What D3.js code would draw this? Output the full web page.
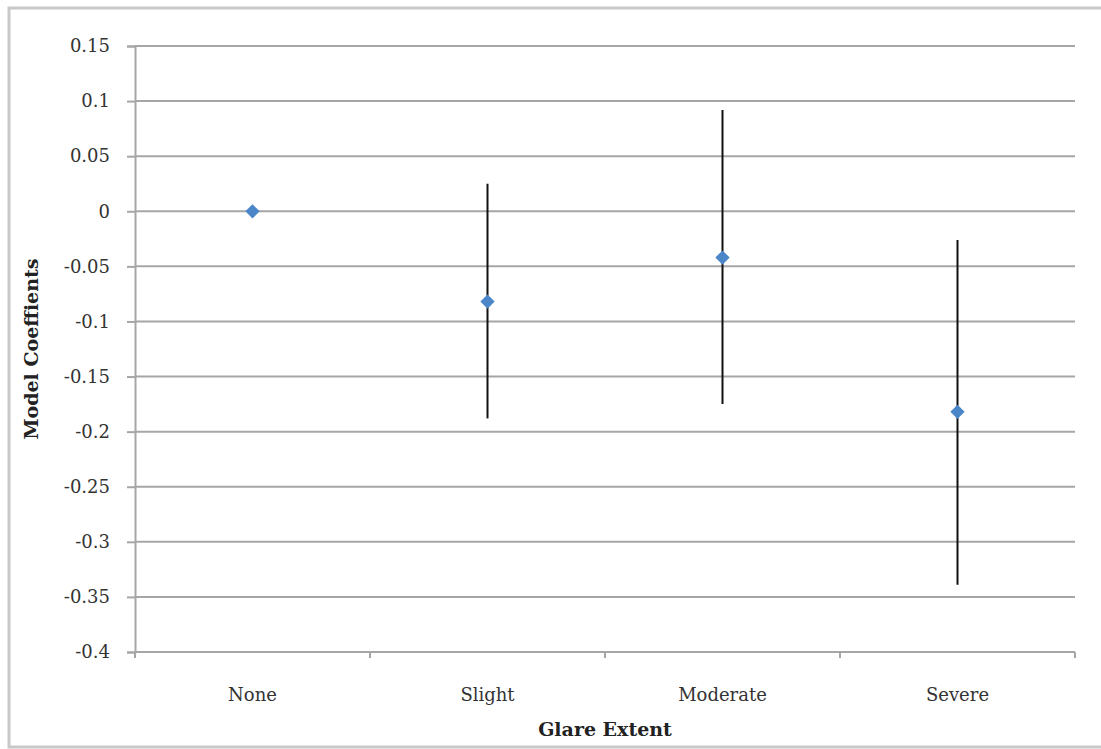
<!DOCTYPE html>
<html>
<head>
<meta charset="utf-8">
<script src="https://cdn.jsdelivr.net/npm/d3@7"></script>
<style>
  html, body { margin: 0; padding: 0; background: #fff; }
  svg { display: block; }
  text { font-family: "DejaVu Serif", "Liberation Serif", serif; }
</style>
</head>
<body>
<svg id="chart" width="1101" height="749"></svg>
<script>
// Glare extent categories and their model coefficients with interval bounds
const categories = ["None", "Slight", "Moderate", "Severe"];
const coefficients = [0, -0.082, -0.042, -0.182];
const upperBounds = [null, 0.025, 0.092, -0.026];
const lowerBounds = [null, -0.188, -0.175, -0.339];
const yTicks = [0.15, 0.1, 0.05, 0, -0.05, -0.1, -0.15, -0.2, -0.25, -0.3, -0.35, -0.4];

const svg = d3.select("#chart");
const margin = { left: 135, right: 26, top: 46, bottom: 97 };
const W = 1101, H = 749;
const plotW = W - margin.left - margin.right;
const plotH = H - margin.top - margin.bottom;

// outer frame
svg.append("rect")
  .attr("x", 9).attr("y", 8)
  .attr("width", W + 10).attr("height", H - 10)
  .attr("fill", "none").attr("stroke", "#c8c8c8").attr("stroke-width", 3);

const g = svg.append("g").attr("transform", `translate(${margin.left},${margin.top})`);

const x = d3.scaleBand().domain(categories).range([0, plotW]);
const y = d3.scaleLinear().domain([-0.4, 0.15]).range([plotH, 0]);

// horizontal gridlines
g.append("g").selectAll("line").data(yTicks.filter(v => v !== -0.4)).join("line")
  .attr("x1", 0).attr("x2", plotW)
  .attr("y1", d => y(d)).attr("y2", d => y(d))
  .attr("stroke", "#a6a6a6").attr("stroke-width", 2);

// y axis (plain hyphen for negatives)
const yAxis = d3.axisLeft(y).tickValues(yTicks).tickSize(8).tickPadding(17)
  .tickFormat(d => String(+d.toFixed(2)));
const ya = g.append("g").call(yAxis);
ya.select(".domain").attr("stroke", "#a6a6a6").attr("stroke-width", 2);
ya.selectAll(".tick line").attr("stroke", "#a6a6a6").attr("stroke-width", 2);
ya.selectAll(".tick text").attr("font-size", 18).attr("fill", "#333");

// x axis with ticks at category boundaries
const xa = g.append("g").attr("transform", `translate(0,${plotH})`);
xa.append("line").attr("x1", 0).attr("x2", plotW).attr("stroke", "#a6a6a6").attr("stroke-width", 2);
const bounds = categories.map(c => x(c)).concat([plotW]);
xa.selectAll(".bt").data(bounds).join("line")
  .attr("x1", d => d).attr("x2", d => d).attr("y1", 0).attr("y2", 6)
  .attr("stroke", "#a6a6a6").attr("stroke-width", 2);
xa.selectAll(".lbl").data(categories).join("text")
  .attr("x", d => x(d) + x.bandwidth() / 2).attr("y", 49)
  .attr("text-anchor", "middle").attr("font-size", 18).attr("fill", "#333")
  .text(d => d);

// error bars
const idx = d3.range(categories.length).filter(i => upperBounds[i] !== null);
g.append("g").selectAll("line").data(idx).join("line")
  .attr("x1", i => x(categories[i]) + x.bandwidth() / 2)
  .attr("x2", i => x(categories[i]) + x.bandwidth() / 2)
  .attr("y1", i => y(upperBounds[i])).attr("y2", i => y(lowerBounds[i]))
  .attr("stroke", "#111").attr("stroke-width", 2);

// diamond markers
const diamond = d3.symbol().type(d3.symbolDiamond2).size(130);
g.append("g").selectAll("path").data(coefficients).join("path")
  .attr("transform", (d, i) => `translate(${x(categories[i]) + x.bandwidth() / 2},${y(d)})`)
  .attr("d", diamond)
  .attr("fill", "#4a86c8");

// axis titles
svg.append("text")
  .attr("x", margin.left + plotW / 2).attr("y", 736)
  .attr("text-anchor", "middle").attr("font-size", 19).attr("font-weight", "bold").attr("fill", "#222")
  .text("Glare Extent");
svg.append("text")
  .attr("transform", `translate(38,${margin.top + plotH / 2}) rotate(-90)`)
  .attr("text-anchor", "middle").attr("font-size", 19).attr("font-weight", "bold").attr("fill", "#222")
  .text("Model Coeffients");
</script>
</body>
</html>
